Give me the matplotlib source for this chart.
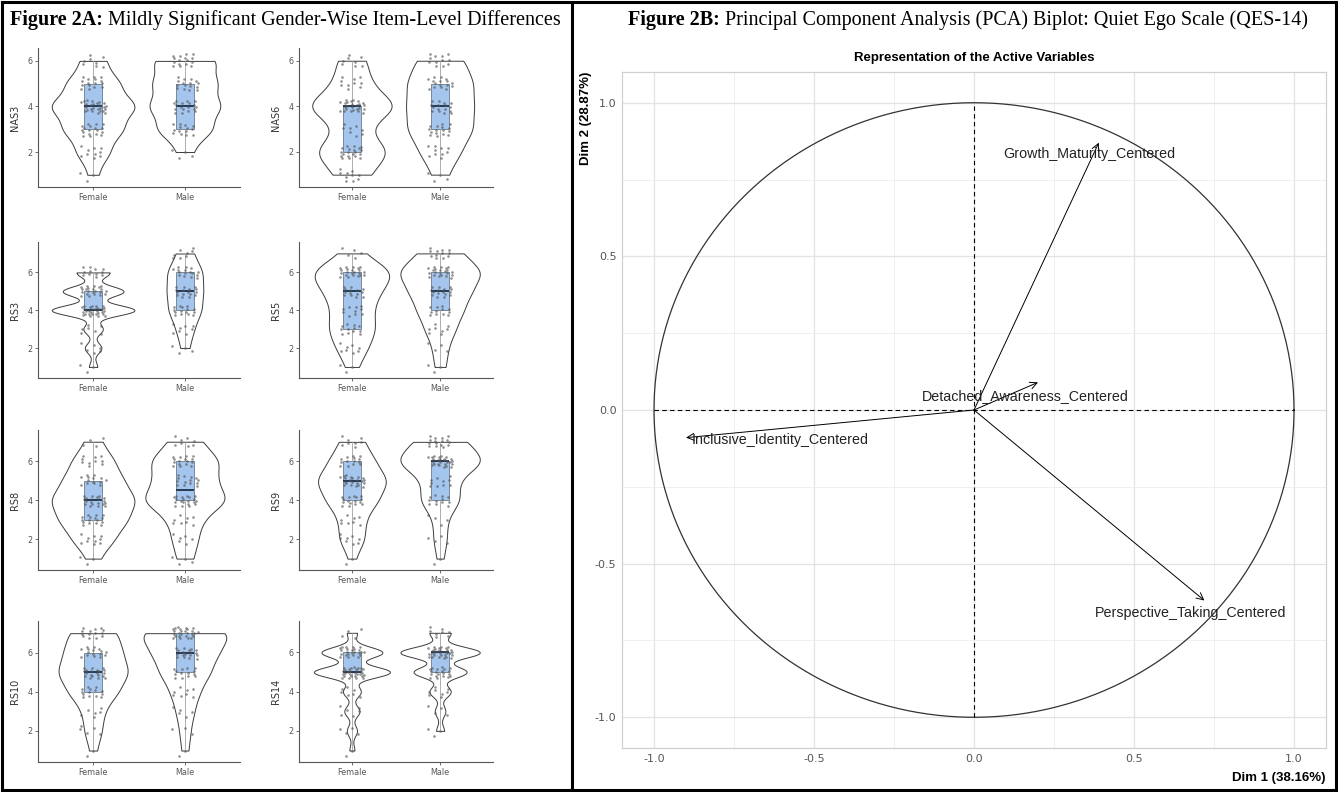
import numpy as np
import matplotlib.pyplot as plt
from matplotlib.lines import Line2D

# Likert levels used by all items
LEVELS = np.arange(1, 8)
GROUPS = ["Female", "Male"]

ITEMS = ["NAS3", "NAS6", "RS3", "RS5", "RS8", "RS9", "RS10", "RS14"]
FEMALE_COUNTS = {
    "NAS3": [3, 10, 18, 26, 16, 8, 0],
    "NAS6": [10, 20, 8, 25, 10, 8, 0],
    "RS3": [3, 6, 7, 30, 22, 12, 0],
    "RS5": [3, 8, 12, 10, 14, 22, 5],
    "RS8": [3, 10, 16, 20, 14, 10, 4],
    "RS9": [2, 8, 8, 16, 22, 14, 8],
    "RS10": [2, 5, 6, 14, 20, 16, 14],
    "RS14": [2, 4, 6, 7, 30, 24, 4],
}
MALE_COUNTS = {
    "NAS3": [0, 4, 14, 18, 16, 16, 0],
    "NAS6": [4, 10, 16, 16, 16, 12, 0],
    "RS3": [0, 4, 8, 15, 16, 16, 8],
    "RS5": [3, 4, 8, 12, 16, 22, 12],
    "RS8": [4, 6, 8, 20, 14, 16, 8],
    "RS9": [2, 4, 4, 12, 10, 26, 16],
    "RS10": [2, 3, 5, 8, 14, 18, 26],
    "RS14": [0, 3, 4, 8, 20, 30, 8],
}

# PCA variable coordinates
PCA_VARS = ["Growth_Maturity_Centered", "Detached_Awareness_Centered",
            "Inclusive_Identity_Centered", "Perspective_Taking_Centered"]
DIM1 = [0.39, 0.20, -0.90, 0.72]
DIM2 = [0.87, 0.09, -0.09, -0.62]
DIM1_PCT = 38.16
DIM2_PCT = 28.87

W, H = 1338, 792
BOX_BLUE = "#a4c6ee"


def nrd0(x):
    sd = np.std(x, ddof=1)
    q75, q25 = np.percentile(x, [75, 25])
    lo = min(sd, (q75 - q25) / 1.34)
    if lo == 0:
        lo = sd
    return 0.9 * lo * len(x) ** -0.2


def density(x, grid):
    bw = nrd0(x)
    z = (grid[:, None] - x[None, :]) / bw
    return np.exp(-0.5 * z ** 2).sum(1) / (len(x) * bw * np.sqrt(2 * np.pi))


def px_axes(fig, left, top, right, bottom):
    return fig.add_axes([left / W, 1 - bottom / H, (right - left) / W, (bottom - top) / H])


def violin_panel(ax, item):
    data = [np.repeat(LEVELS, FEMALE_COUNTS[item]),
            np.repeat(LEVELS, MALE_COUNTS[item])]
    grids = [np.linspace(d.min(), d.max(), 300) for d in data]
    dens = [density(d, g) for d, g in zip(data, grids)]
    peak = max(dn.max() for dn in dens)
    for pos, g, dn in zip([1, 2], grids, dens):
        half = 0.45 * dn / peak
        ax.fill_betweenx(g, pos - half, pos + half, facecolor="white",
                         edgecolor="#3c3c3c", lw=0.7, zorder=1)

    ax.boxplot(data, positions=[1, 2], widths=0.2, whis=(0, 100),
               patch_artist=True, showfliers=False, showcaps=False,
               boxprops=dict(facecolor=BOX_BLUE, edgecolor="#6a7a8a", lw=0.6),
               medianprops=dict(color="#1c2f47", lw=1.3),
               whiskerprops=dict(color="#a0a0a0", lw=0.6), zorder=2)

    # deterministic jitter (R2 low-discrepancy sequence)
    for pos, d in zip([1, 2], data):
        k = np.arange(len(d))
        u = (0.5 + k * 0.7548776662) % 1
        v = (0.5 + k * 0.5698402910) % 1
        ax.scatter(pos + (u - 0.5) * 0.28, d + (v - 0.5) * 0.6, s=3.5,
                   color="#555555", alpha=0.65, lw=0, zorder=3)

    ax.set_xlim(0.4, 2.6)
    ax.set_xticks([1, 2])
    ax.set_xticklabels(GROUPS)
    ax.set_yticks([2, 4, 6])
    ax.set_ylabel(item, fontsize=7, color="#333333", labelpad=5)
    for s in ["top", "right"]:
        ax.spines[s].set_visible(False)
    for s in ["left", "bottom"]:
        ax.spines[s].set_color("#555555")
        ax.spines[s].set_linewidth(0.8)
    ax.tick_params(labelsize=5.8, colors="#555555", length=2, width=0.6, pad=2)


fig = plt.figure(figsize=(W / 100, H / 100), dpi=100)
bg = fig.add_axes([0, 0, 1, 1])
bg.set_axis_off()
bg.set_xlim(0, W)
bg.set_ylim(H, 0)

# left panel grid of violins
cols = [(38, 240), (299, 493)]
rows = [(48, 187), (242, 378), (430, 570), (621, 762)]
for i, item in enumerate(ITEMS):
    r, c = divmod(i, 2)
    ax = px_axes(fig, cols[c][0], rows[r][0], cols[c][1], rows[r][1])
    violin_panel(ax, item)

# right panel: PCA correlation circle
ax = px_axes(fig, 622, 72, 1326, 748)
t = np.linspace(0, 2 * np.pi, 400)
ax.plot(np.cos(t), np.sin(t), color="#333333", lw=0.9, zorder=2)
ax.hlines(0, -1, 1, colors="black", linestyles=(0, (4, 3)), lw=0.8, zorder=2)
ax.vlines(0, -1, 1, colors="black", linestyles=(0, (4, 3)), lw=0.8, zorder=2)
label_offsets = [(-7, -8), (-9, -10), (4, -2), (-10, -9)]
label_ha = ["center", "center", "left", "center"]
for name, x, y, off, ha in zip(PCA_VARS, DIM1, DIM2, label_offsets, label_ha):
    ax.annotate("", xy=(x, y), xytext=(0, 0),
                arrowprops=dict(arrowstyle="->,head_length=0.5,head_width=0.25",
                                lw=0.7, color="black", shrinkA=0, shrinkB=0))
    ax.annotate(name, xy=(x, y), xytext=off, textcoords="offset points",
                ha=ha, va="center", fontsize=10.3, color="#222222",
                family="Liberation Sans")
ax.set_xlim(-1.1, 1.1)
ax.set_ylim(-1.1, 1.1)
ax.set_xticks([-1, -0.5, 0, 0.5, 1])
ax.set_yticks([-1, -0.5, 0, 0.5, 1])
ax.set_xticks([-0.75, -0.25, 0.25, 0.75], minor=True)
ax.set_yticks([-0.75, -0.25, 0.25, 0.75], minor=True)
ax.xaxis.set_major_formatter(plt.FormatStrFormatter("%.1f"))
ax.yaxis.set_major_formatter(plt.FormatStrFormatter("%.1f"))
ax.grid(which="major", color="#e3e3e3", lw=0.9)
ax.grid(which="minor", color="#ececec", lw=0.6)
ax.set_axisbelow(True)
for s in ax.spines.values():
    s.set_color("#d0d0d0")
    s.set_linewidth(0.9)
ax.tick_params(which="both", length=0, labelsize=8, colors="#555555", pad=4)
ax.set_title("Representation of the Active Variables", fontsize=9.5,
             fontweight="bold", family="Liberation Sans", pad=8)
ax.set_xlabel(f"Dim 1 ({DIM1_PCT:.2f}%)", loc="right", fontsize=9.5,
              fontweight="bold", family="Liberation Sans", labelpad=6)
ax.set_ylabel(f"Dim 2 ({DIM2_PCT:.2f}%)", loc="top", fontsize=9.5,
              fontweight="bold", family="Liberation Sans", labelpad=2)

# figure titles
for x0, bold, rest in [(10, "Figure 2A:", " Mildly Significant Gender-Wise Item-Level Differences"),
                       (628, "Figure 2B:", " Principal Component Analysis (PCA) Biplot: Quiet Ego Scale (QES-14)")]:
    t1 = bg.text(x0, 25, bold, fontsize=14.5, fontweight="bold",
                 family="Liberation Serif", va="baseline")
    bg.annotate(rest, xy=(1, 0), xycoords=t1, va="bottom", fontsize=14.5,
                family="Liberation Serif")

# black frame and divider
frame = dict(color="black", lw=2.2, transform=fig.transFigure)
for xs, ys in [([2, 1336], [2, 2]), ([2, 1336], [790, 790]), ([2, 2], [2, 790]),
               ([1336, 1336], [2, 790]), ([572, 572], [2, 790])]:
    fig.add_artist(Line2D([x / W for x in xs], [1 - y / H for y in ys], **frame))

fig.savefig("out.png", dpi=100)
